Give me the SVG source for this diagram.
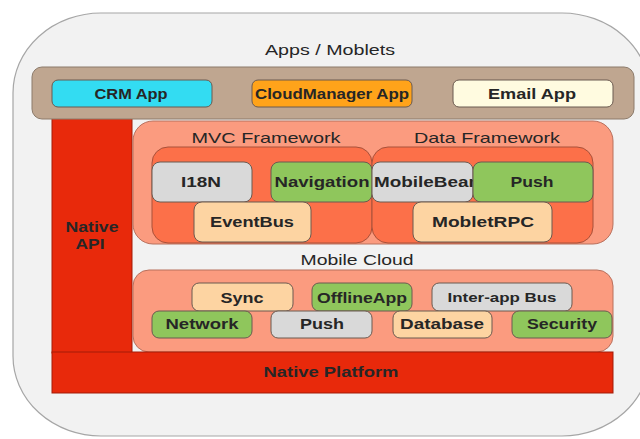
<svg xmlns="http://www.w3.org/2000/svg" width="640" height="439" viewBox="0 0 640 439">
<style>
text{font-family:"Liberation Sans",Arial,sans-serif;fill:#262626;text-anchor:middle}
.t{font-size:15px}
.b{font-size:15px;font-weight:bold}
.n{font-size:14px;font-weight:bold}
.s{font-size:13px;font-weight:bold}
.box{stroke:#6b5a50;stroke-width:1}
.gray{fill:#d9d9d9}
.green{fill:#8fc65c}
.peach{fill:#fdd4a2}
.red{fill:#e8290b;stroke:#a31d08;stroke-width:1}
.salmon{fill:#fb9b7f;stroke:#b8705d;stroke-width:1}
.mid{fill:#fc7049;stroke:#a8513a;stroke-width:1}
</style>
<rect x="0" y="0" width="640" height="439" fill="#ffffff"/>
<rect x="13" y="13" width="637" height="423" rx="88" ry="80" fill="#f2f2f2" stroke="#a6a6a6" stroke-width="1.2"/>
<text class="t" x="330" y="55" textLength="130" lengthAdjust="spacingAndGlyphs">Apps / Moblets</text>

<g id="native-api">
<rect x="52" y="115" width="80" height="238" class="red"/>
<text class="n" x="92" y="232" textLength="53" lengthAdjust="spacingAndGlyphs">Native</text>
<text class="n" x="90" y="249" textLength="29" lengthAdjust="spacingAndGlyphs">API</text>
</g>

<g id="apps-bar">
<rect x="32" y="67" width="602" height="52" rx="10" fill="#bfa690" stroke="#8c7b6b"/>
</g>
<g id="crm-app">
<rect x="52" y="80" width="160" height="27" rx="6" fill="#33dcf2" class="box"/>
<text class="b" x="131" y="99" textLength="73" lengthAdjust="spacingAndGlyphs">CRM App</text>
</g>
<g id="cloudmanager-app">
<rect x="252" y="80" width="160" height="27" rx="6" fill="#ffa31a" class="box"/>
<text class="b" x="332" y="99" textLength="154" lengthAdjust="spacingAndGlyphs">CloudManager App</text>
</g>
<g id="email-app">
<rect x="453" y="80" width="160" height="27" rx="6" fill="#fffbe0" class="box"/>
<text class="b" x="532" y="99" textLength="88" lengthAdjust="spacingAndGlyphs">Email App</text>
</g>

<g id="frameworks">
<rect x="133" y="121" width="480" height="123" rx="20" class="salmon"/>
<text class="t" x="266" y="143" textLength="149" lengthAdjust="spacingAndGlyphs">MVC Framework</text>
<text class="t" x="487" y="143" textLength="146" lengthAdjust="spacingAndGlyphs">Data Framework</text>
</g>
<g id="mvc-framework">
<rect x="152" y="147" width="220" height="96" rx="16" class="mid"/>
</g>
<g id="data-framework">
<rect x="372" y="147" width="221" height="96" rx="16" class="mid"/>
</g>
<g id="i18n">
<rect x="152" y="162" width="100" height="40" rx="8" class="box gray"/>
<text class="b" x="201" y="187" textLength="40" lengthAdjust="spacingAndGlyphs">I18N</text>
</g>
<g id="navigation">
<rect x="271" y="162" width="101" height="40" rx="8" class="box green"/>
<text class="b" x="322" y="187" textLength="95" lengthAdjust="spacingAndGlyphs">Navigation</text>
</g>
<g id="eventbus">
<rect x="194" y="202" width="117" height="40" rx="8" class="box peach"/>
<text class="b" x="252" y="227" textLength="84" lengthAdjust="spacingAndGlyphs">EventBus</text>
</g>
<g id="mobilebean">
<rect x="372" y="162" width="101" height="40" rx="8" class="box gray"/>
<text class="b" x="374" y="187" textLength="106" lengthAdjust="spacingAndGlyphs" style="text-anchor:start">MobileBean</text>
</g>
<g id="push-data">
<rect x="473" y="162" width="120" height="40" rx="8" class="box green"/>
<text class="b" x="532" y="187" textLength="43" lengthAdjust="spacingAndGlyphs">Push</text>
</g>
<g id="mobletrpc">
<rect x="413" y="202" width="139" height="40" rx="8" class="box peach"/>
<text class="b" x="483" y="227" textLength="102" lengthAdjust="spacingAndGlyphs">MobletRPC</text>
</g>

<text class="t" x="357" y="265" textLength="113" lengthAdjust="spacingAndGlyphs">Mobile Cloud</text>
<g id="mobile-cloud">
<rect x="133" y="270" width="480" height="82" rx="16" class="salmon"/>
</g>
<g id="sync">
<rect x="192" y="283" width="101" height="28" rx="7" class="box peach"/>
<text class="b" x="242" y="303" textLength="43" lengthAdjust="spacingAndGlyphs">Sync</text>
</g>
<g id="offlineapp">
<rect x="312" y="283" width="100" height="28" rx="7" class="box green"/>
<text class="b" x="362" y="303" textLength="90" lengthAdjust="spacingAndGlyphs">OfflineApp</text>
</g>
<g id="inter-app-bus">
<rect x="432" y="283" width="140" height="28" rx="7" class="box gray"/>
<text class="s" x="502" y="302" textLength="109" lengthAdjust="spacingAndGlyphs">Inter-app Bus</text>
</g>
<g id="network">
<rect x="152" y="311" width="100" height="27" rx="7" class="box green"/>
<text class="b" x="202" y="329" textLength="73" lengthAdjust="spacingAndGlyphs">Network</text>
</g>
<g id="push-cloud">
<rect x="271" y="311" width="101" height="27" rx="7" class="box gray"/>
<text class="b" x="322" y="329" textLength="44" lengthAdjust="spacingAndGlyphs">Push</text>
</g>
<g id="database">
<rect x="393" y="311" width="99" height="27" rx="7" class="box peach"/>
<text class="b" x="442" y="329" textLength="84" lengthAdjust="spacingAndGlyphs">Database</text>
</g>
<g id="security">
<rect x="512" y="311" width="100" height="27" rx="7" class="box green"/>
<text class="b" x="562" y="329" textLength="70" lengthAdjust="spacingAndGlyphs">Security</text>
</g>

<g id="native-platform">
<rect x="52" y="352" width="561" height="41" class="red"/>
<text class="b" x="331" y="377" textLength="135" lengthAdjust="spacingAndGlyphs">Native Platform</text>
</g>
<g id="connectors"></g>
</svg>
